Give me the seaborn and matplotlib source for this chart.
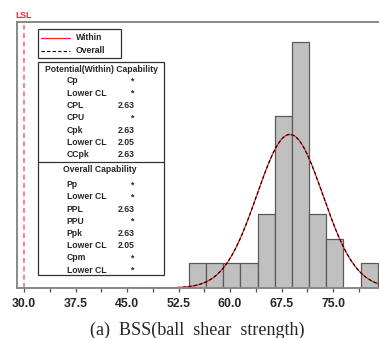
import numpy as np
import pandas as pd
import seaborn as sns
import matplotlib.pyplot as plt
from matplotlib.patches import Rectangle
from matplotlib.lines import Line2D
from matplotlib.ticker import FixedLocator, MultipleLocator

# histogram (bin width 2.5)
bin_edges = [54.0, 56.5, 59.0, 61.5, 64.0, 66.5, 69.0, 71.5, 74.0, 76.5, 79.0, 81.5]
bin_counts = [1, 1, 1, 1, 3, 7, 10, 3, 2, 0, 1]
lsl = 30.0
fit_mean = 68.7
fit_sigma = 4.8
x_ticks = [30.0, 37.5, 45.0, 52.5, 60.0, 67.5, 75.0]

within_labels = ["Cp", "Lower CL", "CPL", "CPU", "Cpk", "Lower CL", "CCpk"]
within_values = ["*", "*", "2.63", "*", "2.63", "2.05", "2.63"]
overall_labels = ["Pp", "Lower CL", "PPL", "PPU", "Ppk", "Lower CL", "Cpm", "Lower CL"]
overall_values = ["*", "*", "2.63", "*", "2.63", "2.05", "*", "*"]

W, H = 379, 338


def fx(px):
    return px / W


def fy(py):
    return 1 - py / H


sns.set_theme(style="white")
plt.rcParams['font.family'] = ['Liberation Sans', 'DejaVu Sans']

fig = plt.figure(figsize=(W / 100, H / 100), dpi=100)
ax = fig.add_axes([fx(17), fy(288), fx(385) - fx(17), fy(22) - fy(288)])

centers = [(a + b) / 2 for a, b in zip(bin_edges[:-1], bin_edges[1:])]
df = pd.DataFrame({"value": centers, "count": bin_counts})
sns.histplot(data=df, x="value", weights="count", bins=bin_edges, ax=ax,
             color="#c0c0c0", alpha=1, edgecolor="#5a5a5a", linewidth=0.9)

# fitted normal curve, scaled to counts
n_total = sum(bin_counts)
bw = bin_edges[1] - bin_edges[0]
xs = np.linspace(45, 83, 400)
ys = n_total * bw * np.exp(-0.5 * ((xs - fit_mean) / fit_sigma) ** 2) / (fit_sigma * np.sqrt(2 * np.pi))
sns.lineplot(x=xs, y=ys, ax=ax, color="#ff2020", linewidth=0.9)
sns.lineplot(x=xs, y=ys, ax=ax, color="black", linewidth=0.8, linestyle=(0, (3, 2)))

ax.axvline(lsl, color="#ff7070", linewidth=1.2, linestyle=(0, (3, 2)), ymax=0.99, clip_on=False)
fig.text(fx(23), fy(15), "LSL", color="#ff2020", fontsize=6.2, fontweight="bold", ha="center", va="center")

ax.set_xlim(28.98, 28.98 + (385 - 17) / 6.87)
ax.set_ylim(0, 10.8)
ax.set_xlabel("")
ax.set_ylabel("")
ax.set_yticks([])
ax.xaxis.set_major_locator(FixedLocator(x_ticks))
ax.xaxis.set_minor_locator(MultipleLocator(3.75))
ax.set_xticklabels([f"{t:.1f}" for t in x_ticks], fontsize=8.8, fontweight="bold")
ax.tick_params(axis="x", which="both", direction="out", length=3, width=0.9, color="#505050", pad=4,
               bottom=True)
for s in ["left", "bottom", "top"]:
    ax.spines[s].set_color("#888888")
    ax.spines[s].set_linewidth(1.4)
ax.spines["right"].set_visible(False)

# legend box
fig.add_artist(Rectangle((fx(38), fy(58)), fx(121) - fx(38), fy(29) - fy(58), transform=fig.transFigure,
                         facecolor="white", edgecolor="#333333", linewidth=0.9))
fig.add_artist(Line2D([fx(41), fx(70)], [fy(37.5)] * 2, transform=fig.transFigure, color="#ff2020", linewidth=0.9))
fig.add_artist(Line2D([fx(41), fx(70)], [fy(50.5)] * 2, transform=fig.transFigure, color="black",
                      linewidth=0.8, linestyle=(0, (3, 2))))
fig.text(fx(76), fy(37.5), "Within", fontsize=6.2, fontweight="bold", va="center")
fig.text(fx(76), fy(50.5), "Overall", fontsize=6.2, fontweight="bold", va="center")

# capability box
fig.add_artist(Rectangle((fx(38), fy(275)), fx(164) - fx(38), fy(62) - fy(275), transform=fig.transFigure,
                         facecolor="white", edgecolor="#333333", linewidth=0.9))
fig.add_artist(Line2D([fx(38), fx(164)], [fy(161.7)] * 2, transform=fig.transFigure, color="#333333", linewidth=0.9))
fig.text(fx(101), fy(70), "Potential(Within) Capability", fontsize=6.2, fontweight="bold", ha="center", va="center")
for i, (lab, val) in enumerate(zip(within_labels, within_values)):
    y = 80.7 + i * 12.33
    fig.text(fx(66.7), fy(y), lab, fontsize=6.2, fontweight="bold", va="center")
    fig.text(fx(134.5), fy(y), val, fontsize=6.2, fontweight="bold", va="center", ha="right")
fig.text(fx(100), fy(170), "Overall Capability", fontsize=6.2, fontweight="bold", ha="center", va="center")
for i, (lab, val) in enumerate(zip(overall_labels, overall_values)):
    y = 184.7 + i * 12.2
    fig.text(fx(66.7), fy(y), lab, fontsize=6.2, fontweight="bold", va="center")
    fig.text(fx(134.5), fy(y), val, fontsize=6.2, fontweight="bold", va="center", ha="right")

fig.text(fx(197), fy(330.5), "(a)  BSS(ball  shear  strength)", fontsize=13, family="Liberation Serif",
         ha="center", va="center")

fig.savefig("out.png", dpi=100)
